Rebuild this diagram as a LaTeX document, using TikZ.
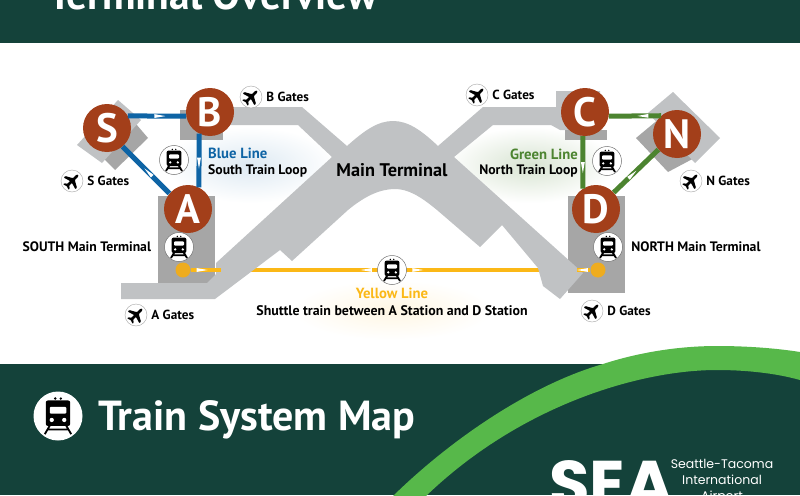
\documentclass[tikz,border=0pt]{standalone}
\usepackage{fontspec}
\setmainfont{PT Sans}
\newfontfamily\logofont{Poppins}
\usetikzlibrary{positioning,decorations.markings}

\definecolor{bandgreen}{HTML}{14423A}
\definecolor{swooshgreen}{HTML}{57B84A}
\definecolor{halllight}{HTML}{C0C2C4}
\definecolor{halldark}{HTML}{A6A6A6}
\definecolor{stationred}{HTML}{A33F1A}
\definecolor{blueline}{HTML}{0E64A5}
\definecolor{greenline}{HTML}{4C8430}
\definecolor{yellowline}{HTML}{FBB817}
\definecolor{stopyellow}{HTML}{EEAC1F}

\pgfdeclarelayer{base}
\pgfsetlayers{base,main}

\tikzset{
  station/.style={circle,fill=stationred,text=white,minimum size=48pt,inner sep=0pt,
                  font=\fontsize{41}{41}\selectfont\bfseries},
  gatemark/.style={circle,fill=white,draw=black!35,line width=.4pt,minimum size=22pt,inner sep=0pt},
  trainmark/.style={circle,fill=white,draw=black!55,line width=.5pt,minimum size=29pt,inner sep=0pt},
  stop/.style={circle,fill=stopyellow,minimum size=15pt,inner sep=0pt},
  maplabel/.style={inner sep=0pt,font=\fontsize{13.7}{15}\selectfont\bfseries},
  gatelabel/.style={inner sep=0pt,font=\fontsize{13.2}{15}\selectfont\bfseries},
  linename/.style={inner sep=0pt,font=\fontsize{14.7}{16}\selectfont\bfseries},
  loopblue/.style={draw=blueline,line width=5pt},
  loopgreen/.style={draw=greenline,line width=5pt},
  shuttle/.style={draw=yellowline,line width=4.5pt},
  tipat/.style={postaction=decorate,decoration={markings,mark=at position #1 with
      {\fill[white] (-5.5,-1.9) -- (5.5,0) -- (-5.5,1.9) -- cycle;}}},
  trainpic/.pic={
    \fill[black] (-1.7,-10.6) circle (.8) (1.7,-10.6) circle (.8);
    \fill[black,rounded corners=2pt] (-7.4,-9.4) rectangle (7.4,6);
    \fill[white,rounded corners=1pt] (-5,-5.6) rectangle (5,-1.4);
    \fill[white] (-3.8,2.4) circle (1.3) (3.8,2.4) circle (1.3);
    \draw[black,line width=1.8pt] (-4.5,5) -- (-8,11) (4.5,5) -- (8,11) (-6,8.2) -- (6,8.2);
  },
  planepic/.pic={
    \fill[black,rotate=45,rounded corners=.6pt]
      (9,0) -- (7,-1.4) -- (2.6,-1.4) -- (-1.2,-8.2) -- (-3.4,-8.2) -- (-1.4,-1.4)
      -- (-5.4,-1.4) -- (-7,-3.8) -- (-8.6,-3.8) -- (-7.4,0) -- (-8.6,3.8) -- (-7,3.8)
      -- (-5.4,1.4) -- (-1.4,1.4) -- (-3.4,8.2) -- (-1.2,8.2) -- (2.6,1.4) -- (7,1.4) -- cycle;
  }
}

\begin{document}
\begin{tikzpicture}[x=1pt,y=-1pt]
  \useasboundingbox (0,0) rectangle (800,495);

  % stations
  \node[station] (S) at (107,128) {S};
  \node[station] (B) at (210,112) {B};
  \node[station] (A) at (188,209) {A};
  \node[station] (C) at (585,112) {C};
  \node[station] (N) at (677,134) {N};
  \node[station] (D) at (596,209) {D};

  \node[stop] (stopA) at (183,270) {};
  \node[stop] (stopD) at (598,270) {};
  \coordinate (stubA) at (221,270);
  \coordinate (stubD) at (577,270);

  % train marks
  \node[trainmark] (trainB) at (174,160) {};
  \node[trainmark] (trainA) at (179,247) {};
  \node[trainmark] (trainY) at (392,270) {};
  \node[trainmark] (trainD) at (608,247) {};
  \node[trainmark] (trainC) at (607,161) {};
  \node[circle,fill=white,minimum size=49pt,inner sep=0pt] (trainBig) at (58,416) {};
  \foreach \t in {trainB,trainA,trainY,trainD,trainC}
    \pic at (\t) {trainpic};
  \pic[scale=1.65] at (trainBig) {trainpic};

  % gate marks
  \node[gatemark] (gateB) at (251,97) {};
  \node[gatemark] (gateS) at (72,181) {};
  \node[gatemark] (gateA) at (136,315) {};
  \node[gatemark] (gateC) at (477,95) {};
  \node[gatemark] (gateN) at (691,181) {};
  \node[gatemark] (gateD) at (592,311) {};
  \foreach \g in {gateB,gateS,gateA,gateC,gateN,gateD}
    \pic at (\g) {planepic};

  \node[gatelabel,right=4pt of gateB] (labelB) {B Gates};
  \node[gatelabel,right=4pt of gateS] (labelS) {S Gates};
  \node[gatelabel,right=4pt of gateA] (labelA) {A Gates};
  \node[gatelabel,right=4pt of gateC] (labelC) {C Gates};
  \node[gatelabel,right=4pt of gateN] (labelN) {N Gates};
  \node[gatelabel,right=4pt of gateD] (labelD) {D Gates};

  % line labels
  \node[linename,anchor=west,text=blueline] (blueName) at (208,153) {Blue Line};
  \node[maplabel,anchor=west] (blueLoop) at (208,171) {South Train Loop};
  \node[linename,anchor=east,text=greenline] (greenName) at (578,154) {Green Line};
  \node[maplabel,anchor=east] (greenLoop) at (578,171) {North Train Loop};
  \node[linename,text=yellowline] (yellowName) at (392,293) {Yellow Line};
  \node[maplabel,font=\fontsize{13.9}{15}\selectfont\bfseries] (shuttleText) at (392,311) {Shuttle train between A Station and D Station};
  \node[maplabel,left=13pt of trainA] (southText) {SOUTH Main Terminal};
  \node[maplabel,right=8.5pt of trainD] (northText) {NORTH Main Terminal};
  \node[maplabel,font=\fontsize{18.3}{20}\selectfont\bfseries] (mainText) at (392,170) {Main Terminal};

  % connectors
  \draw[loopblue,tipat=.55] (S.30) -- (B.190);
  \draw[loopblue,tipat=.55] (B.243) -- (A.63);
  \draw[loopblue,tipat=.45] (A.140) -- (S.-50);
  \draw[loopgreen,tipat=.35] (N.131) -- (C.-10);
  \draw[loopgreen,tipat=.6] (C.265) -- (D.123);
  \draw[loopgreen,tipat=.42] (D.43) -- (N.220);
  \draw[shuttle,tipat=11.5pt] (stopA) -- (stubA);
  \draw[shuttle,tipat=8pt] (stopD) -- (stubD);
  \path[tipat=11pt] (trainY) -- (stopA);
  \path[tipat=11pt] (trainY) -- (stopD);

  % bands and headings
  \node[anchor=base west,inner sep=0pt,text=white,font=\fontsize{41.6}{42}\selectfont\bfseries]
    (title) at (48,10) {Terminal Overview};
  \node[anchor=base west,inner sep=0pt,text=white,font=\fontsize{42}{42}\selectfont\bfseries]
    (mapTitle) at (98,430) {Train System Map};
  \node[anchor=base west,inner sep=0pt,text=white,font=\logofont\fontsize{66}{66}\selectfont\bfseries]
    (sea) at (549,507) {SEA};
  \node[inner sep=0pt,text=white,font=\logofont\fontsize{12.5}{16}\selectfont,align=center,anchor=north]
    (airport) at (722,459.5) {Seattle-Tacoma\\International\\Airport};

  \begin{pgfonlayer}{base}
    \fill[white] (0,0) rectangle (800,495);
    \fill[bandgreen] (0,0) rectangle (800,43);
    \fill[bandgreen] (0,364) rectangle (800,495);
    \fill[swooshgreen] (392,497) .. controls (450,440) and (530,385) .. (603,364)
      .. controls (640,352) and (680,346) .. (717,346)
      .. controls (745,346) and (775,348) .. (800,352)
      -- (800,380) .. controls (775,373) and (745,370) .. (717,370)
      .. controls (640,370) and (520,405) .. (425,497) -- cycle;

    % glow behind the line labels
    \shade[inner color=blueline!14,outer color=white] (250,165) ellipse (85 and 38);
    \shade[inner color=greenline!22,outer color=white] (530,165) ellipse (85 and 38);
    \shade[inner color=yellowline!12,outer color=white] (392,310) ellipse (100 and 30);

    \draw[shuttle] (stopA) -- (stopD);

    % concourse blocks
    \fill[halldark] (130,117) -- (148,138) -- (115,170) -- (95,150) -- cycle;
    \fill[halllight] (118,100) -- (141,120) -- (102,163) -- (77,145) -- cycle;
    \fill[halldark] (660,118) -- (700,155) -- (668,172) -- (636,138) -- cycle;
    \fill[halllight] (673,92) -- (720,138) -- (695,163) -- (648,113) -- cycle;
    \fill[halldark] (158,196) rectangle (215,283);
    \fill[halldark] (568,196) rectangle (625,293);

    % terminal and its arms
    \fill[halllight] (121,283) -- (207,283) -- (216,274) -- (216,263) -- (332,157)
      -- (298,125) -- (205,125) -- (205,107) -- (302,107) -- (347,146)
      .. controls (365,130) and (378,121) .. (393,121)
      .. controls (408,121) and (421,130) .. (438,146)
      -- (483,107) -- (556,107) -- (556,91) -- (600,91) -- (600,130) -- (560,130)
      -- (551,125) -- (493,125) -- (454,157) -- (583,273) -- (560,299) -- (543,286)
      -- (538,268) -- (502,225) -- (480,247) -- (437,210)
      .. controls (420,196) and (408,189) .. (395,189)
      .. controls (380,189) and (365,196) .. (348,210)
      -- (292,261) -- (280,250) -- (215,299) -- (121,299) -- cycle;
    \fill[halldark] (180,110) rectangle (223,140);
    \fill[halldark] (565,130) rectangle (607,140);
  \end{pgfonlayer}
\end{tikzpicture}
\end{document}
